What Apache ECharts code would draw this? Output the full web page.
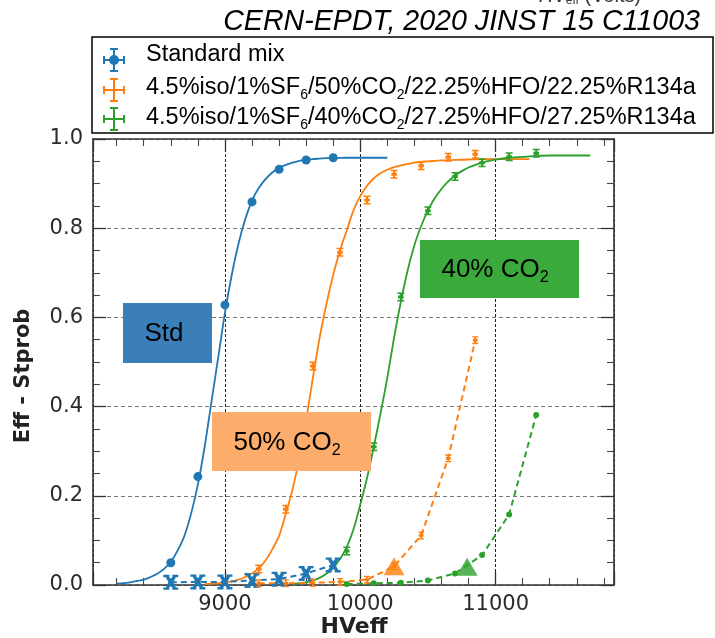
<!DOCTYPE html>
<html><head><meta charset="utf-8">
<script src="https://cdn.jsdelivr.net/npm/echarts@6/dist/echarts.min.js"></script>
<style>html,body{margin:0;padding:0;background:#fff}#c{width:715px;height:638px}</style>
</head><body><div id="c"></div>
<script>
// ---------- data ----------
// Standard mix: measured points
const stdHV   = [8600, 8800, 9000, 9200, 9400, 9600, 9800];
const stdEff  = [0.050, 0.243, 0.628, 0.859, 0.932, 0.953, 0.958];
const stdSt   = [0.006, 0.007, 0.007, 0.010, 0.013, 0.026, 0.045];
// Standard mix: fitted sigmoid as drawn
const stdFitHV  = [8200, 8250, 8300, 8350, 8400, 8450, 8500, 8550, 8600, 8650, 8700, 8750, 8800, 8850, 8900, 8950, 9000, 9050, 9100, 9150, 9200, 9250, 9300, 9350, 9400, 9450, 9500, 9550, 9600, 9650, 9700, 9750, 9800, 9900, 10000, 10100, 10200];
const stdFitEff = [0.003, 0.004, 0.006, 0.009, 0.012, 0.018, 0.025, 0.036, 0.052, 0.077, 0.110, 0.160, 0.225, 0.310, 0.410, 0.510, 0.610, 0.695, 0.765, 0.820, 0.862, 0.890, 0.910, 0.925, 0.935, 0.942, 0.947, 0.951, 0.953, 0.955, 0.956, 0.957, 0.957, 0.958, 0.958, 0.958, 0.958];
// 50% CO2
const co50HV  = [9250, 9450, 9650, 9850, 10050, 10250, 10450, 10650, 10850];
const co50Eff = [0.036, 0.170, 0.491, 0.746, 0.863, 0.921, 0.940, 0.959, 0.966];
const co50St  = [0.004, 0.004, 0.005, 0.007, 0.012, 0.042, 0.111, 0.284, 0.549];
const co50FitHV  = [8850, 8900, 8950, 9000, 9050, 9100, 9150, 9200, 9250, 9300, 9350, 9400, 9450, 9500, 9550, 9600, 9650, 9700, 9750, 9800, 9850, 9900, 9950, 10000, 10050, 10100, 10150, 10200, 10250, 10300, 10350, 10400, 10450, 10500, 10600, 10700, 10800, 10900, 11000, 11100, 11250];
const co50FitEff = [0.002, 0.003, 0.004, 0.006, 0.008, 0.012, 0.018, 0.026, 0.038, 0.055, 0.080, 0.110, 0.160, 0.215, 0.285, 0.370, 0.465, 0.555, 0.630, 0.695, 0.750, 0.795, 0.840, 0.872, 0.895, 0.912, 0.923, 0.931, 0.937, 0.941, 0.944, 0.947, 0.949, 0.950, 0.952, 0.953, 0.954, 0.955, 0.955, 0.955, 0.955];
// 40% CO2
const co40HV  = [9900, 10100, 10300, 10500, 10700, 10900, 11100, 11300];
const co40Eff = [0.076, 0.310, 0.646, 0.839, 0.916, 0.947, 0.960, 0.968];
const co40St  = [0.002, 0.004, 0.005, 0.010, 0.026, 0.067, 0.158, 0.381];
const co40FitHV  = [9500, 9550, 9600, 9650, 9700, 9750, 9800, 9850, 9900, 9950, 10000, 10050, 10100, 10150, 10200, 10250, 10300, 10350, 10400, 10450, 10500, 10550, 10600, 10650, 10700, 10750, 10800, 10850, 10900, 10950, 11000, 11100, 11200, 11300, 11400, 11500, 11600, 11700];
const co40FitEff = [0.002, 0.004, 0.006, 0.010, 0.016, 0.025, 0.038, 0.058, 0.085, 0.125, 0.180, 0.240, 0.310, 0.385, 0.465, 0.555, 0.635, 0.705, 0.762, 0.805, 0.840, 0.867, 0.888, 0.905, 0.918, 0.928, 0.936, 0.942, 0.947, 0.951, 0.954, 0.958, 0.960, 0.962, 0.963, 0.963, 0.963, 0.963];
// working points (triangles) on the streamer curves
const wpHV = [10250, 10790];
const wpSt = [0.042, 0.041];
// axes
const xMin = 8025, xMax = 11875;
const yTicks = [0.0, 0.2, 0.4, 0.6, 0.8, 1.0];
const xTickLabels = [9000, 10000, 11000];

const C_BLUE = '#1f77b4', C_ORANGE = '#ff7f0e', C_GREEN = '#2ca02c';
const zip = (a, b) => a.map((v, i) => [v, b[i]]);

const SYM_ERR = 'path://M0,0H10V2H6.5V4H9V8H6.5V10H10V12H0V10H3.5V8H1V4H3.5V2H0Z';
const SYM_X = 'path://M0,0H4V1.4L5,2.6L6,1.4V0H10V1.6H8.4L6.6,5L8.4,8.4H10V10H6V8.6L5,7.4L4,8.6V10H0V8.4H1.6L3.4,5L1.6,1.6H0Z';

const chart = echarts.init(document.getElementById('c'), null, {renderer: 'canvas'});

const tickFont = {fontFamily: 'DejaVu Sans', fontSize: 21, color: '#2b2b2b'};
const axLine = () => ({show: true, onZero: false, lineStyle: {color: '#333', width: 1.6}});
const majTick = () => ({show: true, inside: true, length: 13, lineStyle: {color: '#333', width: 1.3}});
const minTick = (n) => ({show: true, splitNumber: n, length: 7, lineStyle: {color: '#444', width: 1.1}});

function fitLine(name, hv, eff, color) {
  return {name, type: 'line', data: zip(hv, eff), smooth: 0.3, showSymbol: false,
    symbol: 'none', lineStyle: {color, width: 1.8}, z: 3, silent: true};
}
function effPts(hv, eff, color, symbol, size) {
  return {type: 'scatter', data: zip(hv, eff), symbol, symbolSize: size, itemStyle: {color, opacity: 1}, z: 4};
}
function stLine(hv, st, color, symbol, size) {
  return {type: 'line', data: zip(hv, st), symbol, symbolSize: size, showAllSymbol: true,
    itemStyle: {color}, lineStyle: {color, width: 2, type: [6, 4]}, z: 4};
}

const legRich = {
  n: {fontFamily: 'Liberation Sans', fontSize: 23.5, lineHeight: 28, fill: '#000', color: '#000'},
  s: {fontFamily: 'Liberation Sans', fontSize: 14, lineHeight: 14, verticalAlign: 'bottom', fill: '#000', color: '#000'}
};
const boxRich = {
  n: {fontFamily: 'Liberation Sans', fontSize: 26, lineHeight: 32, fill: '#000', color: '#000'},
  s: {fontFamily: 'Liberation Sans', fontSize: 16, lineHeight: 16, verticalAlign: 'bottom', fill: '#000', color: '#000'}
};

function legIcon(cx, cy, color, dot) {
  const els = [
    {type: 'rect', shape: {x: cx - 1, y: cy - 11, width: 2, height: 22}, style: {fill: color}},
    {type: 'rect', shape: {x: cx - 4, y: cy - 12, width: 8, height: 2}, style: {fill: color}},
    {type: 'rect', shape: {x: cx - 4, y: cy + 10, width: 8, height: 2}, style: {fill: color}},
    {type: 'rect', shape: {x: cx - 10, y: cy - 1, width: 20, height: 2}, style: {fill: color}},
    {type: 'rect', shape: {x: cx - 11, y: cy - 4, width: 2, height: 8}, style: {fill: color}},
    {type: 'rect', shape: {x: cx + 9, y: cy - 4, width: 2, height: 8}, style: {fill: color}}
  ];
  if (dot) els.push({type: 'circle', shape: {cx, cy, r: 5}, style: {fill: color}});
  return els;
}

const legendRows = [
  {y: 55, icon: 60, color: C_BLUE, dot: true, text: '{n|Standard mix}'},
  {y: 88, icon: 90, color: C_ORANGE, dot: false, text: '{n|4.5%iso/1%SF}{s|6}{n|/50%CO}{s|2}{n|/22.25%HFO/22.25%R134a}'},
  {y: 118, icon: 119, color: C_GREEN, dot: false, text: '{n|4.5%iso/1%SF}{s|6}{n|/40%CO}{s|2}{n|/27.25%HFO/27.25%R134a}'}
];

const graphics = [
  // cut-off axis caption at the very top
  {type: 'text', x: 538, y: 7, z: 10, style: {text: '{m|HV}{s|eff}{m| (Volts)}', verticalAlign: 'bottom', align: 'left',
    rich: {m: {fontFamily: 'Liberation Sans', fontSize: 20, lineHeight: 22, fill: '#333'}, s: {fontFamily: 'Liberation Sans', fontSize: 12, lineHeight: 12, verticalAlign: 'bottom', fill: '#333'}}}},
  {type: 'text', x: 700, y: 22, z: 10, style: {text: 'CERN-EPDT, 2020 JINST 15 C11003', font: 'italic 28.6px "Liberation Sans"', fill: '#000', align: 'right', verticalAlign: 'middle'}},
  {type: 'rect', z: 10, shape: {x: 92, y: 37, width: 621, height: 96}, style: {fill: '#fff', stroke: '#000', lineWidth: 1.5}},
  {type: 'text', x: 24, y: 376, rotation: Math.PI / 2, z: 10, style: {text: 'Eff - Stprob', font: 'bold 21px "DejaVu Sans"', fill: '#222', align: 'center', verticalAlign: 'middle'}},
  {type: 'text', x: 354, y: 627, z: 10, style: {text: 'HVeff', font: 'bold 22px "DejaVu Sans"', fill: '#222', align: 'center', verticalAlign: 'middle'}},
  // annotation boxes
  {type: 'rect', z: 20, shape: {x: 123, y: 303, width: 89, height: 60}, style: {fill: '#3a7fba'}},
  {type: 'text', z: 21, x: 164, y: 334, style: {text: '{n|Std}', rich: boxRich, align: 'center', verticalAlign: 'middle'}},
  {type: 'rect', z: 20, shape: {x: 212, y: 412, width: 159, height: 59}, style: {fill: '#fcad6b'}},
  {type: 'text', z: 21, x: 287, y: 443, style: {text: '{n|50% CO}{s|2}', rich: boxRich, align: 'center', verticalAlign: 'middle'}},
  {type: 'rect', z: 20, shape: {x: 420, y: 240, width: 159, height: 58}, style: {fill: '#3aaa3c'}},
  {type: 'text', z: 21, x: 495, y: 270, style: {text: '{n|40% CO}{s|2}', rich: boxRich, align: 'center', verticalAlign: 'middle'}}
];
legendRows.forEach(r => {
  legIcon(114, r.icon, r.color, r.dot).forEach(e => { e.z = 11; graphics.push(e); });
  graphics.push({type: 'text', z: 11, x: 146, y: r.y, style: {text: r.text, rich: legRich, align: 'left', verticalAlign: 'middle'}});
});

const option = {
  backgroundColor: '#fff',
  animation: false,
  grid: {left: 93, right: 101, top: 139, bottom: 53, containLabel: false},
  xAxis: [
    {type: 'value', min: xMin, max: xMax, splitNumber: 4, position: 'bottom',
      axisLine: axLine(), axisTick: majTick(), minorTick: minTick(5),
      axisLabel: Object.assign({margin: 9, showMinLabel: false, showMaxLabel: false,
        formatter: v => (xTickLabels.indexOf(v) >= 0 ? String(v) : '')}, tickFont),
      splitLine: {show: true, lineStyle: {color: '#222', width: 1, type: [3, 2]}}},
    {type: 'value', min: xMin, max: xMax, splitNumber: 4, position: 'top',
      axisLine: axLine(), axisTick: majTick(), minorTick: minTick(5), axisLabel: {show: false}, splitLine: {show: false}}
  ],
  yAxis: [
    {type: 'value', min: 0, max: 1, interval: 0.2, position: 'left',
      axisLine: axLine(), axisTick: majTick(), minorTick: minTick(4),
      axisLabel: Object.assign({margin: 10, formatter: v => (yTicks.indexOf(+v.toFixed(1)) >= 0 ? v.toFixed(1) : '')}, tickFont),
      splitLine: {show: true, lineStyle: {color: '#777', width: 1, type: [4, 3]}}},
    {type: 'value', min: 0, max: 1, interval: 0.2, position: 'right',
      axisLine: axLine(), axisTick: majTick(), minorTick: minTick(4), axisLabel: {show: false}, splitLine: {show: false}}
  ],
  series: [
    fitLine('Standard mix', stdFitHV, stdFitEff, C_BLUE),
    effPts(stdHV, stdEff, C_BLUE, 'circle', 9),
    stLine(stdHV, stdSt, C_BLUE, SYM_X, 15),
    fitLine('50% CO2', co50FitHV, co50FitEff, C_ORANGE),
    effPts(co50HV, co50Eff, C_ORANGE, SYM_ERR, [7, 9]),
    stLine(co50HV, co50St, C_ORANGE, SYM_ERR, [6, 8]),
    fitLine('40% CO2', co40FitHV, co40FitEff, C_GREEN),
    effPts(co40HV, co40Eff, C_GREEN, SYM_ERR, [7, 9]),
    stLine(co40HV, co40St, C_GREEN, 'circle', 6),
    {type: 'scatter', data: [[wpHV[0], wpSt[0]]], symbol: 'triangle', symbolSize: [21, 18], itemStyle: {color: C_ORANGE}, z: 5},
    {type: 'scatter', data: [[wpHV[1], wpSt[1]]], symbol: 'triangle', symbolSize: [21, 18], itemStyle: {color: C_GREEN}, z: 5}
  ],
  graphic: {elements: graphics}
};
chart.setOption(option);
</script>
</body></html>
